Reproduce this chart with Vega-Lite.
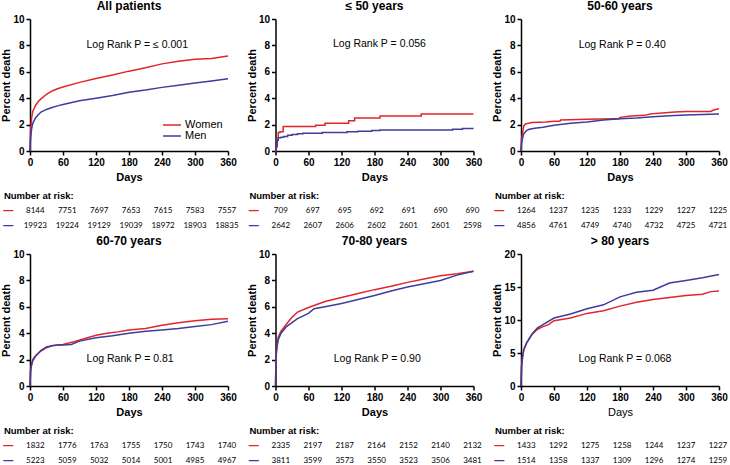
{
"$schema":"https://vega.github.io/schema/vega-lite/v6.json",
"padding":{"left":0,"top":0,"right":0,"bottom":0},
"datasets":{
"curves":[
{"p":"all","sex":"Women","day":0,"pct":0},{"p":"all","sex":"Women","day":1,"pct":1.5},{"p":"all","sex":"Women","day":3,"pct":2.5},{"p":"all","sex":"Women","day":5,"pct":3.0},{"p":"all","sex":"Women","day":10,"pct":3.45},{"p":"all","sex":"Women","day":15,"pct":3.75},{"p":"all","sex":"Women","day":20,"pct":3.95},{"p":"all","sex":"Women","day":30,"pct":4.3},{"p":"all","sex":"Women","day":40,"pct":4.55},{"p":"all","sex":"Women","day":50,"pct":4.72},{"p":"all","sex":"Women","day":60,"pct":4.85},{"p":"all","sex":"Women","day":90,"pct":5.2},{"p":"all","sex":"Women","day":120,"pct":5.5},{"p":"all","sex":"Women","day":150,"pct":5.75},{"p":"all","sex":"Women","day":180,"pct":6.05},{"p":"all","sex":"Women","day":210,"pct":6.3},{"p":"all","sex":"Women","day":240,"pct":6.6},{"p":"all","sex":"Women","day":270,"pct":6.8},{"p":"all","sex":"Women","day":300,"pct":6.95},{"p":"all","sex":"Women","day":330,"pct":7.0},{"p":"all","sex":"Women","day":345,"pct":7.1},{"p":"all","sex":"Women","day":360,"pct":7.2},
{"p":"all","sex":"Men","day":0,"pct":0},{"p":"all","sex":"Men","day":1,"pct":1.0},{"p":"all","sex":"Men","day":3,"pct":1.7},{"p":"all","sex":"Men","day":5,"pct":2.1},{"p":"all","sex":"Men","day":10,"pct":2.5},{"p":"all","sex":"Men","day":15,"pct":2.75},{"p":"all","sex":"Men","day":20,"pct":2.95},{"p":"all","sex":"Men","day":30,"pct":3.15},{"p":"all","sex":"Men","day":40,"pct":3.3},{"p":"all","sex":"Men","day":50,"pct":3.42},{"p":"all","sex":"Men","day":60,"pct":3.52},{"p":"all","sex":"Men","day":90,"pct":3.8},{"p":"all","sex":"Men","day":120,"pct":4.0},{"p":"all","sex":"Men","day":150,"pct":4.2},{"p":"all","sex":"Men","day":180,"pct":4.45},{"p":"all","sex":"Men","day":210,"pct":4.62},{"p":"all","sex":"Men","day":240,"pct":4.82},{"p":"all","sex":"Men","day":270,"pct":4.98},{"p":"all","sex":"Men","day":300,"pct":5.15},{"p":"all","sex":"Men","day":330,"pct":5.3},{"p":"all","sex":"Men","day":360,"pct":5.47},
{"p":"le50","sex":"Women","day":0,"pct":0},{"p":"le50","sex":"Women","day":1,"pct":0.3},{"p":"le50","sex":"Women","day":3,"pct":0.9},{"p":"le50","sex":"Women","day":5,"pct":1.4},{"p":"le50","sex":"Women","day":8,"pct":1.45},{"p":"le50","sex":"Women","day":14,"pct":1.85},{"p":"le50","sex":"Women","day":73,"pct":1.95},{"p":"le50","sex":"Women","day":90,"pct":2.1},{"p":"le50","sex":"Women","day":133,"pct":2.3},{"p":"le50","sex":"Women","day":144,"pct":2.5},{"p":"le50","sex":"Women","day":190,"pct":2.65},{"p":"le50","sex":"Women","day":265,"pct":2.8},{"p":"le50","sex":"Women","day":360,"pct":2.8},
{"p":"le50","sex":"Men","day":0,"pct":0},{"p":"le50","sex":"Men","day":1,"pct":0.4},{"p":"le50","sex":"Men","day":3,"pct":0.8},{"p":"le50","sex":"Men","day":5,"pct":1.0},{"p":"le50","sex":"Men","day":10,"pct":1.05},{"p":"le50","sex":"Men","day":15,"pct":1.1},{"p":"le50","sex":"Men","day":22,"pct":1.2},{"p":"le50","sex":"Men","day":30,"pct":1.25},{"p":"le50","sex":"Men","day":40,"pct":1.3},{"p":"le50","sex":"Men","day":50,"pct":1.35},{"p":"le50","sex":"Men","day":85,"pct":1.4},{"p":"le50","sex":"Men","day":130,"pct":1.45},{"p":"le50","sex":"Men","day":150,"pct":1.5},{"p":"le50","sex":"Men","day":175,"pct":1.55},{"p":"le50","sex":"Men","day":190,"pct":1.6},{"p":"le50","sex":"Men","day":322,"pct":1.65},{"p":"le50","sex":"Men","day":340,"pct":1.7},{"p":"le50","sex":"Men","day":360,"pct":1.7},
{"p":"a5060","sex":"Women","day":0,"pct":0},{"p":"a5060","sex":"Women","day":1,"pct":0.9},{"p":"a5060","sex":"Women","day":3,"pct":1.4},{"p":"a5060","sex":"Women","day":5,"pct":1.9},{"p":"a5060","sex":"Women","day":8,"pct":2.05},{"p":"a5060","sex":"Women","day":20,"pct":2.15},{"p":"a5060","sex":"Women","day":45,"pct":2.2},{"p":"a5060","sex":"Women","day":60,"pct":2.25},{"p":"a5060","sex":"Women","day":71,"pct":2.25},{"p":"a5060","sex":"Women","day":72,"pct":2.35},{"p":"a5060","sex":"Women","day":120,"pct":2.4},{"p":"a5060","sex":"Women","day":170,"pct":2.45},{"p":"a5060","sex":"Women","day":178,"pct":2.45},{"p":"a5060","sex":"Women","day":180,"pct":2.55},{"p":"a5060","sex":"Women","day":200,"pct":2.65},{"p":"a5060","sex":"Women","day":225,"pct":2.7},{"p":"a5060","sex":"Women","day":235,"pct":2.8},{"p":"a5060","sex":"Women","day":245,"pct":2.85},{"p":"a5060","sex":"Women","day":280,"pct":2.95},{"p":"a5060","sex":"Women","day":300,"pct":3.0},{"p":"a5060","sex":"Women","day":345,"pct":3.0},{"p":"a5060","sex":"Women","day":350,"pct":3.1},{"p":"a5060","sex":"Women","day":360,"pct":3.2},
{"p":"a5060","sex":"Men","day":0,"pct":0},{"p":"a5060","sex":"Men","day":1,"pct":0.6},{"p":"a5060","sex":"Men","day":3,"pct":1.0},{"p":"a5060","sex":"Men","day":5,"pct":1.3},{"p":"a5060","sex":"Men","day":10,"pct":1.55},{"p":"a5060","sex":"Men","day":15,"pct":1.65},{"p":"a5060","sex":"Men","day":25,"pct":1.72},{"p":"a5060","sex":"Men","day":40,"pct":1.8},{"p":"a5060","sex":"Men","day":60,"pct":1.95},{"p":"a5060","sex":"Men","day":90,"pct":2.1},{"p":"a5060","sex":"Men","day":120,"pct":2.2},{"p":"a5060","sex":"Men","day":150,"pct":2.35},{"p":"a5060","sex":"Men","day":180,"pct":2.45},{"p":"a5060","sex":"Men","day":210,"pct":2.5},{"p":"a5060","sex":"Men","day":240,"pct":2.6},{"p":"a5060","sex":"Men","day":270,"pct":2.67},{"p":"a5060","sex":"Men","day":300,"pct":2.72},{"p":"a5060","sex":"Men","day":330,"pct":2.76},{"p":"a5060","sex":"Men","day":360,"pct":2.8},
{"p":"a6070","sex":"Women","day":0,"pct":0},{"p":"a6070","sex":"Women","day":1,"pct":1.2},{"p":"a6070","sex":"Women","day":3,"pct":1.7},{"p":"a6070","sex":"Women","day":5,"pct":2.0},{"p":"a6070","sex":"Women","day":10,"pct":2.3},{"p":"a6070","sex":"Women","day":20,"pct":2.65},{"p":"a6070","sex":"Women","day":30,"pct":2.9},{"p":"a6070","sex":"Women","day":40,"pct":3.05},{"p":"a6070","sex":"Women","day":50,"pct":3.1},{"p":"a6070","sex":"Women","day":60,"pct":3.15},{"p":"a6070","sex":"Women","day":80,"pct":3.35},{"p":"a6070","sex":"Women","day":100,"pct":3.6},{"p":"a6070","sex":"Women","day":120,"pct":3.85},{"p":"a6070","sex":"Women","day":140,"pct":4.0},{"p":"a6070","sex":"Women","day":160,"pct":4.1},{"p":"a6070","sex":"Women","day":180,"pct":4.25},{"p":"a6070","sex":"Women","day":210,"pct":4.35},{"p":"a6070","sex":"Women","day":240,"pct":4.6},{"p":"a6070","sex":"Women","day":270,"pct":4.8},{"p":"a6070","sex":"Women","day":300,"pct":4.95},{"p":"a6070","sex":"Women","day":330,"pct":5.05},{"p":"a6070","sex":"Women","day":360,"pct":5.1},
{"p":"a6070","sex":"Men","day":0,"pct":0},{"p":"a6070","sex":"Men","day":1,"pct":1.1},{"p":"a6070","sex":"Men","day":3,"pct":1.6},{"p":"a6070","sex":"Men","day":5,"pct":1.9},{"p":"a6070","sex":"Men","day":10,"pct":2.25},{"p":"a6070","sex":"Men","day":20,"pct":2.7},{"p":"a6070","sex":"Men","day":30,"pct":2.95},{"p":"a6070","sex":"Men","day":40,"pct":3.05},{"p":"a6070","sex":"Men","day":50,"pct":3.1},{"p":"a6070","sex":"Men","day":60,"pct":3.1},{"p":"a6070","sex":"Men","day":75,"pct":3.15},{"p":"a6070","sex":"Men","day":90,"pct":3.4},{"p":"a6070","sex":"Men","day":120,"pct":3.65},{"p":"a6070","sex":"Men","day":150,"pct":3.8},{"p":"a6070","sex":"Men","day":180,"pct":4.0},{"p":"a6070","sex":"Men","day":210,"pct":4.15},{"p":"a6070","sex":"Men","day":240,"pct":4.25},{"p":"a6070","sex":"Men","day":270,"pct":4.35},{"p":"a6070","sex":"Men","day":300,"pct":4.5},{"p":"a6070","sex":"Men","day":330,"pct":4.65},{"p":"a6070","sex":"Men","day":360,"pct":4.9},
{"p":"a7080","sex":"Women","day":0,"pct":0},{"p":"a7080","sex":"Women","day":1,"pct":2.5},{"p":"a7080","sex":"Women","day":3,"pct":3.2},{"p":"a7080","sex":"Women","day":5,"pct":3.7},{"p":"a7080","sex":"Women","day":10,"pct":4.15},{"p":"a7080","sex":"Women","day":20,"pct":4.7},{"p":"a7080","sex":"Women","day":30,"pct":5.2},{"p":"a7080","sex":"Women","day":40,"pct":5.6},{"p":"a7080","sex":"Women","day":60,"pct":5.95},{"p":"a7080","sex":"Women","day":90,"pct":6.4},{"p":"a7080","sex":"Women","day":120,"pct":6.7},{"p":"a7080","sex":"Women","day":150,"pct":7.0},{"p":"a7080","sex":"Women","day":180,"pct":7.3},{"p":"a7080","sex":"Women","day":210,"pct":7.55},{"p":"a7080","sex":"Women","day":240,"pct":7.85},{"p":"a7080","sex":"Women","day":270,"pct":8.1},{"p":"a7080","sex":"Women","day":300,"pct":8.35},{"p":"a7080","sex":"Women","day":330,"pct":8.5},{"p":"a7080","sex":"Women","day":360,"pct":8.7},
{"p":"a7080","sex":"Men","day":0,"pct":0},{"p":"a7080","sex":"Men","day":1,"pct":2.2},{"p":"a7080","sex":"Men","day":3,"pct":3.0},{"p":"a7080","sex":"Men","day":5,"pct":3.5},{"p":"a7080","sex":"Men","day":10,"pct":4.0},{"p":"a7080","sex":"Men","day":20,"pct":4.5},{"p":"a7080","sex":"Men","day":30,"pct":4.8},{"p":"a7080","sex":"Men","day":40,"pct":5.1},{"p":"a7080","sex":"Men","day":60,"pct":5.5},{"p":"a7080","sex":"Men","day":70,"pct":5.85},{"p":"a7080","sex":"Men","day":90,"pct":6.0},{"p":"a7080","sex":"Men","day":120,"pct":6.25},{"p":"a7080","sex":"Men","day":150,"pct":6.55},{"p":"a7080","sex":"Men","day":180,"pct":6.85},{"p":"a7080","sex":"Men","day":210,"pct":7.2},{"p":"a7080","sex":"Men","day":240,"pct":7.5},{"p":"a7080","sex":"Men","day":270,"pct":7.75},{"p":"a7080","sex":"Men","day":300,"pct":8.0},{"p":"a7080","sex":"Men","day":330,"pct":8.4},{"p":"a7080","sex":"Men","day":360,"pct":8.7},
{"p":"gt80","sex":"Women","day":0,"pct":0},{"p":"gt80","sex":"Women","day":1,"pct":3},{"p":"gt80","sex":"Women","day":3,"pct":4.5},{"p":"gt80","sex":"Women","day":5,"pct":5.5},{"p":"gt80","sex":"Women","day":10,"pct":6.5},{"p":"gt80","sex":"Women","day":20,"pct":7.8},{"p":"gt80","sex":"Women","day":30,"pct":8.6},{"p":"gt80","sex":"Women","day":40,"pct":9.0},{"p":"gt80","sex":"Women","day":50,"pct":9.3},{"p":"gt80","sex":"Women","day":60,"pct":9.9},{"p":"gt80","sex":"Women","day":90,"pct":10.3},{"p":"gt80","sex":"Women","day":120,"pct":11.0},{"p":"gt80","sex":"Women","day":150,"pct":11.4},{"p":"gt80","sex":"Women","day":180,"pct":12.1},{"p":"gt80","sex":"Women","day":210,"pct":12.7},{"p":"gt80","sex":"Women","day":240,"pct":13.1},{"p":"gt80","sex":"Women","day":270,"pct":13.4},{"p":"gt80","sex":"Women","day":300,"pct":13.7},{"p":"gt80","sex":"Women","day":330,"pct":13.9},{"p":"gt80","sex":"Women","day":345,"pct":14.3},{"p":"gt80","sex":"Women","day":360,"pct":14.4},
{"p":"gt80","sex":"Men","day":0,"pct":0},{"p":"gt80","sex":"Men","day":1,"pct":3},{"p":"gt80","sex":"Men","day":3,"pct":4.5},{"p":"gt80","sex":"Men","day":5,"pct":5.5},{"p":"gt80","sex":"Men","day":10,"pct":6.5},{"p":"gt80","sex":"Men","day":20,"pct":7.9},{"p":"gt80","sex":"Men","day":30,"pct":8.8},{"p":"gt80","sex":"Men","day":40,"pct":9.3},{"p":"gt80","sex":"Men","day":60,"pct":10.3},{"p":"gt80","sex":"Men","day":90,"pct":10.9},{"p":"gt80","sex":"Men","day":120,"pct":11.7},{"p":"gt80","sex":"Men","day":150,"pct":12.3},{"p":"gt80","sex":"Men","day":180,"pct":13.5},{"p":"gt80","sex":"Men","day":210,"pct":14.2},{"p":"gt80","sex":"Men","day":240,"pct":14.5},{"p":"gt80","sex":"Men","day":270,"pct":15.6},{"p":"gt80","sex":"Men","day":300,"pct":16.0},{"p":"gt80","sex":"Men","day":330,"pct":16.4},{"p":"gt80","sex":"Men","day":360,"pct":16.9}
],
"notes":[
{"p":"all","label":"Log Rank P = ≤ 0.001","day":195,"pct":8.0},
{"p":"le50","label":"Log Rank P = 0.056","day":189,"pct":8.1},
{"p":"a5060","label":"Log Rank P = 0.40","day":184,"pct":8.0},
{"p":"a6070","label":"Log Rank P = 0.81","day":182,"pct":2.05},
{"p":"a7080","label":"Log Rank P = 0.90","day":185,"pct":2.05},
{"p":"gt80","label":"Log Rank P = 0.068","day":189,"pct":4.15}
],
"risk":[
{"p":"all","sex":"Women","day":0,"n":8144},{"p":"all","sex":"Women","day":60,"n":7751},{"p":"all","sex":"Women","day":120,"n":7697},{"p":"all","sex":"Women","day":180,"n":7653},{"p":"all","sex":"Women","day":240,"n":7615},{"p":"all","sex":"Women","day":300,"n":7583},{"p":"all","sex":"Women","day":360,"n":7557},
{"p":"all","sex":"Men","day":0,"n":19923},{"p":"all","sex":"Men","day":60,"n":19224},{"p":"all","sex":"Men","day":120,"n":19129},{"p":"all","sex":"Men","day":180,"n":19039},{"p":"all","sex":"Men","day":240,"n":18972},{"p":"all","sex":"Men","day":300,"n":18903},{"p":"all","sex":"Men","day":360,"n":18835},
{"p":"le50","sex":"Women","day":0,"n":709},{"p":"le50","sex":"Women","day":60,"n":697},{"p":"le50","sex":"Women","day":120,"n":695},{"p":"le50","sex":"Women","day":180,"n":692},{"p":"le50","sex":"Women","day":240,"n":691},{"p":"le50","sex":"Women","day":300,"n":690},{"p":"le50","sex":"Women","day":360,"n":690},
{"p":"le50","sex":"Men","day":0,"n":2642},{"p":"le50","sex":"Men","day":60,"n":2607},{"p":"le50","sex":"Men","day":120,"n":2606},{"p":"le50","sex":"Men","day":180,"n":2602},{"p":"le50","sex":"Men","day":240,"n":2601},{"p":"le50","sex":"Men","day":300,"n":2601},{"p":"le50","sex":"Men","day":360,"n":2598},
{"p":"a5060","sex":"Women","day":0,"n":1264},{"p":"a5060","sex":"Women","day":60,"n":1237},{"p":"a5060","sex":"Women","day":120,"n":1235},{"p":"a5060","sex":"Women","day":180,"n":1233},{"p":"a5060","sex":"Women","day":240,"n":1229},{"p":"a5060","sex":"Women","day":300,"n":1227},{"p":"a5060","sex":"Women","day":360,"n":1225},
{"p":"a5060","sex":"Men","day":0,"n":4856},{"p":"a5060","sex":"Men","day":60,"n":4761},{"p":"a5060","sex":"Men","day":120,"n":4749},{"p":"a5060","sex":"Men","day":180,"n":4740},{"p":"a5060","sex":"Men","day":240,"n":4732},{"p":"a5060","sex":"Men","day":300,"n":4725},{"p":"a5060","sex":"Men","day":360,"n":4721},
{"p":"a6070","sex":"Women","day":0,"n":1832},{"p":"a6070","sex":"Women","day":60,"n":1776},{"p":"a6070","sex":"Women","day":120,"n":1763},{"p":"a6070","sex":"Women","day":180,"n":1755},{"p":"a6070","sex":"Women","day":240,"n":1750},{"p":"a6070","sex":"Women","day":300,"n":1743},{"p":"a6070","sex":"Women","day":360,"n":1740},
{"p":"a6070","sex":"Men","day":0,"n":5223},{"p":"a6070","sex":"Men","day":60,"n":5059},{"p":"a6070","sex":"Men","day":120,"n":5032},{"p":"a6070","sex":"Men","day":180,"n":5014},{"p":"a6070","sex":"Men","day":240,"n":5001},{"p":"a6070","sex":"Men","day":300,"n":4985},{"p":"a6070","sex":"Men","day":360,"n":4967},
{"p":"a7080","sex":"Women","day":0,"n":2335},{"p":"a7080","sex":"Women","day":60,"n":2197},{"p":"a7080","sex":"Women","day":120,"n":2187},{"p":"a7080","sex":"Women","day":180,"n":2164},{"p":"a7080","sex":"Women","day":240,"n":2152},{"p":"a7080","sex":"Women","day":300,"n":2140},{"p":"a7080","sex":"Women","day":360,"n":2132},
{"p":"a7080","sex":"Men","day":0,"n":3811},{"p":"a7080","sex":"Men","day":60,"n":3599},{"p":"a7080","sex":"Men","day":120,"n":3573},{"p":"a7080","sex":"Men","day":180,"n":3550},{"p":"a7080","sex":"Men","day":240,"n":3523},{"p":"a7080","sex":"Men","day":300,"n":3506},{"p":"a7080","sex":"Men","day":360,"n":3481},
{"p":"gt80","sex":"Women","day":0,"n":1433},{"p":"gt80","sex":"Women","day":60,"n":1292},{"p":"gt80","sex":"Women","day":120,"n":1275},{"p":"gt80","sex":"Women","day":180,"n":1258},{"p":"gt80","sex":"Women","day":240,"n":1244},{"p":"gt80","sex":"Women","day":300,"n":1237},{"p":"gt80","sex":"Women","day":360,"n":1227},
{"p":"gt80","sex":"Men","day":0,"n":1514},{"p":"gt80","sex":"Men","day":60,"n":1358},{"p":"gt80","sex":"Men","day":120,"n":1337},{"p":"gt80","sex":"Men","day":180,"n":1309},{"p":"gt80","sex":"Men","day":240,"n":1296},{"p":"gt80","sex":"Men","day":300,"n":1274},{"p":"gt80","sex":"Men","day":360,"n":1259}
]
},
"columns":3,
"spacing":{"row":23,"column":47.5},
"bounds":"flush",
"align":"each",
"resolve":{"scale":{"color":"independent"},"legend":{"color":"independent"}},
"concat":[
{"width":198,"height":132,"title":"All patients","layer":[
 {"data":{"name":"curves"},"transform":[{"filter":"datum.p==='all'"}],"mark":{"type":"line","strokeWidth":1.5,"interpolate":"linear"},
  "encoding":{"x":{"field":"day","type":"quantitative","scale":{"domain":[0,360],"nice":false},"axis":{"values":[0,60,120,180,240,300,360],"tickCount":12,"title":"Days","labelOverlap":false}},
   "y":{"field":"pct","type":"quantitative","scale":{"domain":[0,10],"nice":false},"axis":{"values":[0,2,4,6,8,10],"tickCount":12,"title":"Percent death","labelOverlap":false}},
   "color":{"field":"sex","type":"nominal","scale":{"domain":["Women","Men"],"range":["#e0262b","#3c3d9c"]},
    "legend":{"orient":"none","legendX":136,"legendY":100,"title":null,"symbolType":"M-1.8,0H1.8","symbolSize":100,"symbolStrokeWidth":1.5,"labelFontSize":11,"labelOffset":7,"rowPadding":-1,"padding":0,"labelColor":"#000"}}}},
 {"data":{"name":"notes"},"transform":[{"filter":"datum.p==='all'"}],"mark":{"type":"text","fontSize":10.5,"color":"#000"},
  "encoding":{"x":{"field":"day","type":"quantitative"},"y":{"field":"pct","type":"quantitative"},"text":{"field":"label"}}}
]},
{"width":198,"height":132,"title":"≤ 50 years","layer":[
 {"data":{"name":"curves"},"transform":[{"filter":"datum.p==='le50'"}],"mark":{"type":"line","strokeWidth":1.5,"interpolate":"step-after"},
  "encoding":{"x":{"field":"day","type":"quantitative","scale":{"domain":[0,360],"nice":false},"axis":{"values":[0,60,120,180,240,300,360],"tickCount":12,"title":"Days","labelOverlap":false}},
   "y":{"field":"pct","type":"quantitative","scale":{"domain":[0,10],"nice":false},"axis":{"values":[0,2,4,6,8,10],"tickCount":12,"title":"Percent death","labelOverlap":false}},
   "color":{"field":"sex","type":"nominal","scale":{"domain":["Women","Men"],"range":["#e0262b","#3c3d9c"]},"legend":null}}},
 {"data":{"name":"notes"},"transform":[{"filter":"datum.p==='le50'"}],"mark":{"type":"text","fontSize":10.5,"color":"#000"},
  "encoding":{"x":{"field":"day","type":"quantitative"},"y":{"field":"pct","type":"quantitative"},"text":{"field":"label"}}}
]},
{"width":198,"height":132,"title":"50-60 years","layer":[
 {"data":{"name":"curves"},"transform":[{"filter":"datum.p==='a5060'"}],"mark":{"type":"line","strokeWidth":1.5,"interpolate":"linear"},
  "encoding":{"x":{"field":"day","type":"quantitative","scale":{"domain":[0,360],"nice":false},"axis":{"values":[0,60,120,180,240,300,360],"tickCount":12,"title":"Days","labelOverlap":false}},
   "y":{"field":"pct","type":"quantitative","scale":{"domain":[0,10],"nice":false},"axis":{"values":[0,2,4,6,8,10],"tickCount":12,"title":"Percent death","labelOverlap":false}},
   "color":{"field":"sex","type":"nominal","scale":{"domain":["Women","Men"],"range":["#e0262b","#3c3d9c"]},"legend":null}}},
 {"data":{"name":"notes"},"transform":[{"filter":"datum.p==='a5060'"}],"mark":{"type":"text","fontSize":10.5,"color":"#000"},
  "encoding":{"x":{"field":"day","type":"quantitative"},"y":{"field":"pct","type":"quantitative"},"text":{"field":"label"}}}
]},
{"width":198,"height":57,"layer":[
 {"data":{"name":"risk"},"transform":[{"filter":"datum.p==='all'"}],"mark":{"type":"text","font":"Lato","fontSize":8,"color":"#000"},
  "encoding":{"x":{"field":"day","type":"quantitative","scale":{"domain":[-10,362],"nice":false},"axis":null},
   "y":{"field":"sex","type":"nominal","scale":{"domain":["header","Women","Men"],"range":[22,52],"padding":0},"axis":null},
   "text":{"field":"n","type":"quantitative","format":"d"}}},
 {"data":{"name":"risk"},"transform":[{"filter":"datum.p==='all' && datum.day===0"}],"mark":{"type":"text","fontSize":10,"fontWeight":"bold"},
  "encoding":{"x":{"datum":-51},"y":{"field":"sex","type":"nominal"},"text":{"value":"—"},
   "color":{"field":"sex","type":"nominal","scale":{"domain":["Women","Men"],"range":["#e0262b","#3c3d9c"]},"legend":null}}},
 {"data":{"values":[{"label":"Number at risk:"}]},"mark":{"type":"text","fontSize":9.5,"fontWeight":"bold","align":"left","color":"#000"},
  "encoding":{"x":{"datum":-59},"y":{"datum":"header"},"text":{"field":"label"}}}
]},
{"width":198,"height":57,"layer":[
 {"data":{"name":"risk"},"transform":[{"filter":"datum.p==='le50'"}],"mark":{"type":"text","font":"Lato","fontSize":8,"color":"#000"},
  "encoding":{"x":{"field":"day","type":"quantitative","scale":{"domain":[-10,362],"nice":false},"axis":null},
   "y":{"field":"sex","type":"nominal","scale":{"domain":["header","Women","Men"],"range":[22,52],"padding":0},"axis":null},
   "text":{"field":"n","type":"quantitative","format":"d"}}},
 {"data":{"name":"risk"},"transform":[{"filter":"datum.p==='le50' && datum.day===0"}],"mark":{"type":"text","fontSize":10,"fontWeight":"bold"},
  "encoding":{"x":{"datum":-51},"y":{"field":"sex","type":"nominal"},"text":{"value":"—"},
   "color":{"field":"sex","type":"nominal","scale":{"domain":["Women","Men"],"range":["#e0262b","#3c3d9c"]},"legend":null}}},
 {"data":{"values":[{"label":"Number at risk:"}]},"mark":{"type":"text","fontSize":9.5,"fontWeight":"bold","align":"left","color":"#000"},
  "encoding":{"x":{"datum":-59},"y":{"datum":"header"},"text":{"field":"label"}}}
]},
{"width":198,"height":57,"layer":[
 {"data":{"name":"risk"},"transform":[{"filter":"datum.p==='a5060'"}],"mark":{"type":"text","font":"Lato","fontSize":8,"color":"#000"},
  "encoding":{"x":{"field":"day","type":"quantitative","scale":{"domain":[-10,362],"nice":false},"axis":null},
   "y":{"field":"sex","type":"nominal","scale":{"domain":["header","Women","Men"],"range":[22,52],"padding":0},"axis":null},
   "text":{"field":"n","type":"quantitative","format":"d"}}},
 {"data":{"name":"risk"},"transform":[{"filter":"datum.p==='a5060' && datum.day===0"}],"mark":{"type":"text","fontSize":10,"fontWeight":"bold"},
  "encoding":{"x":{"datum":-51},"y":{"field":"sex","type":"nominal"},"text":{"value":"—"},
   "color":{"field":"sex","type":"nominal","scale":{"domain":["Women","Men"],"range":["#e0262b","#3c3d9c"]},"legend":null}}},
 {"data":{"values":[{"label":"Number at risk:"}]},"mark":{"type":"text","fontSize":9.5,"fontWeight":"bold","align":"left","color":"#000"},
  "encoding":{"x":{"datum":-59},"y":{"datum":"header"},"text":{"field":"label"}}}
]},
{"width":198,"height":132,"title":"60-70 years","layer":[
 {"data":{"name":"curves"},"transform":[{"filter":"datum.p==='a6070'"}],"mark":{"type":"line","strokeWidth":1.5,"interpolate":"linear"},
  "encoding":{"x":{"field":"day","type":"quantitative","scale":{"domain":[0,360],"nice":false},"axis":{"values":[0,60,120,180,240,300,360],"tickCount":12,"title":"Days","labelOverlap":false}},
   "y":{"field":"pct","type":"quantitative","scale":{"domain":[0,10],"nice":false},"axis":{"values":[0,2,4,6,8,10],"tickCount":12,"title":"Percent death","labelOverlap":false}},
   "color":{"field":"sex","type":"nominal","scale":{"domain":["Women","Men"],"range":["#e0262b","#3c3d9c"]},"legend":null}}},
 {"data":{"name":"notes"},"transform":[{"filter":"datum.p==='a6070'"}],"mark":{"type":"text","fontSize":10.5,"color":"#000"},
  "encoding":{"x":{"field":"day","type":"quantitative"},"y":{"field":"pct","type":"quantitative"},"text":{"field":"label"}}}
]},
{"width":198,"height":132,"title":"70-80 years","layer":[
 {"data":{"name":"curves"},"transform":[{"filter":"datum.p==='a7080'"}],"mark":{"type":"line","strokeWidth":1.5,"interpolate":"linear"},
  "encoding":{"x":{"field":"day","type":"quantitative","scale":{"domain":[0,360],"nice":false},"axis":{"values":[0,60,120,180,240,300,360],"tickCount":12,"title":"Days","labelOverlap":false}},
   "y":{"field":"pct","type":"quantitative","scale":{"domain":[0,10],"nice":false},"axis":{"values":[0,2,4,6,8,10],"tickCount":12,"title":"Percent death","labelOverlap":false}},
   "color":{"field":"sex","type":"nominal","scale":{"domain":["Women","Men"],"range":["#e0262b","#3c3d9c"]},"legend":null}}},
 {"data":{"name":"notes"},"transform":[{"filter":"datum.p==='a7080'"}],"mark":{"type":"text","fontSize":10.5,"color":"#000"},
  "encoding":{"x":{"field":"day","type":"quantitative"},"y":{"field":"pct","type":"quantitative"},"text":{"field":"label"}}}
]},
{"width":198,"height":132,"title":"> 80 years","layer":[
 {"data":{"name":"curves"},"transform":[{"filter":"datum.p==='gt80'"}],"mark":{"type":"line","strokeWidth":1.5,"interpolate":"linear"},
  "encoding":{"x":{"field":"day","type":"quantitative","scale":{"domain":[0,360],"nice":false},"axis":{"values":[0,60,120,180,240,300,360],"tickCount":12,"title":"Days","titleFontWeight":"normal","labelOverlap":false}},
   "y":{"field":"pct","type":"quantitative","scale":{"domain":[0,20],"nice":false},"axis":{"values":[0,5,10,15,20],"tickCount":12,"title":"Percent death","labelOverlap":false}},
   "color":{"field":"sex","type":"nominal","scale":{"domain":["Women","Men"],"range":["#e0262b","#3c3d9c"]},"legend":null}}},
 {"data":{"name":"notes"},"transform":[{"filter":"datum.p==='gt80'"}],"mark":{"type":"text","fontSize":10.5,"color":"#000"},
  "encoding":{"x":{"field":"day","type":"quantitative"},"y":{"field":"pct","type":"quantitative"},"text":{"field":"label"}}}
]},
{"width":198,"height":57,"layer":[
 {"data":{"name":"risk"},"transform":[{"filter":"datum.p==='a6070'"}],"mark":{"type":"text","font":"Lato","fontSize":8,"color":"#000"},
  "encoding":{"x":{"field":"day","type":"quantitative","scale":{"domain":[-10,362],"nice":false},"axis":null},
   "y":{"field":"sex","type":"nominal","scale":{"domain":["header","Women","Men"],"range":[22,52],"padding":0},"axis":null},
   "text":{"field":"n","type":"quantitative","format":"d"}}},
 {"data":{"name":"risk"},"transform":[{"filter":"datum.p==='a6070' && datum.day===0"}],"mark":{"type":"text","fontSize":10,"fontWeight":"bold"},
  "encoding":{"x":{"datum":-51},"y":{"field":"sex","type":"nominal"},"text":{"value":"—"},
   "color":{"field":"sex","type":"nominal","scale":{"domain":["Women","Men"],"range":["#e0262b","#3c3d9c"]},"legend":null}}},
 {"data":{"values":[{"label":"Number at risk:"}]},"mark":{"type":"text","fontSize":9.5,"fontWeight":"bold","align":"left","color":"#000"},
  "encoding":{"x":{"datum":-59},"y":{"datum":"header"},"text":{"field":"label"}}}
]},
{"width":198,"height":57,"layer":[
 {"data":{"name":"risk"},"transform":[{"filter":"datum.p==='a7080'"}],"mark":{"type":"text","font":"Lato","fontSize":8,"color":"#000"},
  "encoding":{"x":{"field":"day","type":"quantitative","scale":{"domain":[-10,362],"nice":false},"axis":null},
   "y":{"field":"sex","type":"nominal","scale":{"domain":["header","Women","Men"],"range":[22,52],"padding":0},"axis":null},
   "text":{"field":"n","type":"quantitative","format":"d"}}},
 {"data":{"name":"risk"},"transform":[{"filter":"datum.p==='a7080' && datum.day===0"}],"mark":{"type":"text","fontSize":10,"fontWeight":"bold"},
  "encoding":{"x":{"datum":-51},"y":{"field":"sex","type":"nominal"},"text":{"value":"—"},
   "color":{"field":"sex","type":"nominal","scale":{"domain":["Women","Men"],"range":["#e0262b","#3c3d9c"]},"legend":null}}},
 {"data":{"values":[{"label":"Number at risk:"}]},"mark":{"type":"text","fontSize":9.5,"fontWeight":"bold","align":"left","color":"#000"},
  "encoding":{"x":{"datum":-59},"y":{"datum":"header"},"text":{"field":"label"}}}
]},
{"width":198,"height":57,"layer":[
 {"data":{"name":"risk"},"transform":[{"filter":"datum.p==='gt80'"}],"mark":{"type":"text","font":"Lato","fontSize":8,"color":"#000"},
  "encoding":{"x":{"field":"day","type":"quantitative","scale":{"domain":[-10,362],"nice":false},"axis":null},
   "y":{"field":"sex","type":"nominal","scale":{"domain":["header","Women","Men"],"range":[22,52],"padding":0},"axis":null},
   "text":{"field":"n","type":"quantitative","format":"d"}}},
 {"data":{"name":"risk"},"transform":[{"filter":"datum.p==='gt80' && datum.day===0"}],"mark":{"type":"text","fontSize":10,"fontWeight":"bold"},
  "encoding":{"x":{"datum":-51},"y":{"field":"sex","type":"nominal"},"text":{"value":"—"},
   "color":{"field":"sex","type":"nominal","scale":{"domain":["Women","Men"],"range":["#e0262b","#3c3d9c"]},"legend":null}}},
 {"data":{"values":[{"label":"Number at risk:"}]},"mark":{"type":"text","fontSize":9.5,"fontWeight":"bold","align":"left","color":"#000"},
  "encoding":{"x":{"datum":-59},"y":{"datum":"header"},"text":{"field":"label"}}}
]}
],
"config":{
 "font":"Liberation Sans",
 "view":{"stroke":null},
 "axis":{"grid":false,"domainColor":"#000","domainWidth":1.5,"tickColor":"#000","tickWidth":1.5,"tickSize":4,"labelColor":"#000","labelFontSize":10,"labelFontWeight":"bold","labelPadding":2,"labelFlush":false,"labelOverlap":false,"titleColor":"#000","titleFontSize":11,"titleFontWeight":"bold"},
 "axisX":{"titlePadding":4},
 "axisY":{"titlePadding":1},
 "title":{"fontSize":12,"fontWeight":"bold","color":"#000","offset":1,"frame":"group"}
}
}
